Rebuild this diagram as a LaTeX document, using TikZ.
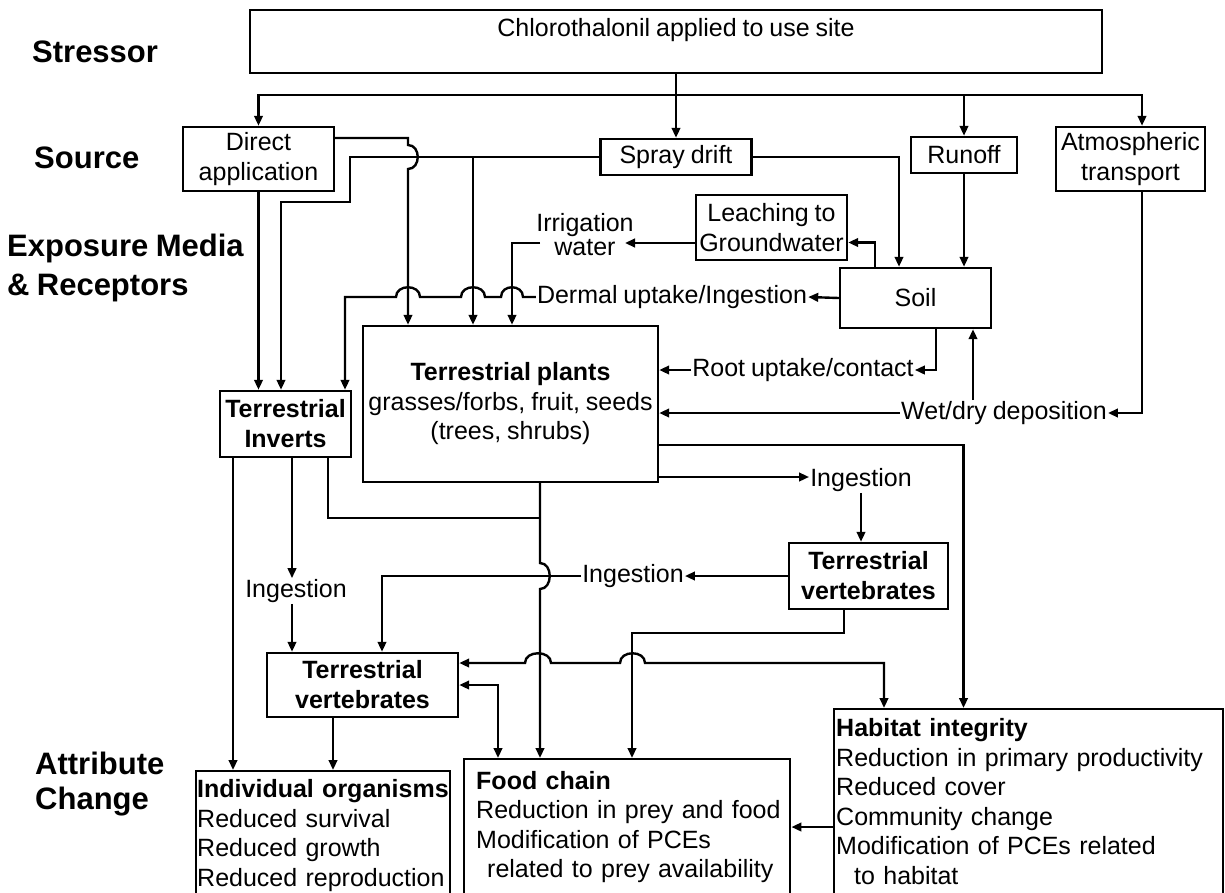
\documentclass[tikz,border=0pt]{standalone}
\usepackage{fontspec}
\setmainfont[WordSpace=0.85]{Liberation Sans}
\usetikzlibrary{arrows.meta,calc}
\begin{document}
\begin{tikzpicture}[x=1pt,y=-1pt,
  >={Triangle[length=10pt,width=8.5pt]},
  every node/.style={font=\fontsize{25}{29.5}\selectfont, inner sep=1pt},
  box/.style={draw, line width=2.4pt, align=center, inner sep=0pt},
  boldbox/.style={box, font=\fontsize{25}{30}\selectfont\bfseries},
  tbox/.style={draw, line width=2.4pt, align=left, anchor=north west},
  hdr/.style={anchor=west, align=left, inner sep=0pt},
  conn/.style={line width=2.4pt},
  arr/.style={conn,->},
  darr/.style={conn,<->},
]
\useasboundingbox (0,0) rectangle (1225,892);
\clip (0,0) rectangle (1225,892);

% headers
\node[hdr, font=\fontsize{31}{36}\selectfont\bfseries] (hStress) at (32,52) {Stressor};
\node[hdr, font=\fontsize{31}{36}\selectfont\bfseries] (hSource) at (34,158) {Source};
\node[hdr, font=\fontsize{31}{39}\selectfont\bfseries] (hExp) at (7,267.5) {Exposure Media\\\& Receptors};
\node[hdr, font=\fontsize{31}{35}\selectfont\bfseries] (hAttr) at (35,784.5) {Attribute\\Change};

% boxes
\node[box, minimum width=852, minimum height=63,
  label={[anchor=north,inner sep=9pt]north:Chlorothalonil applied to use site}] (top) at (676,41.5) {};
\node[box, minimum width=151, minimum height=64] (direct) at (258.5,159) {Direct\\application};
\node[box, minimum width=151, minimum height=36] (spray) at (676,157) {Spray drift};
\node[box, minimum width=106, minimum height=36] (runoff) at (964,155) {Runoff};
\node[box, minimum width=149, minimum height=64] (atmo) at (1130.5,159) {Atmospheric\\transport};
\node[box, minimum width=151, minimum height=65] (leach) at (771.5,227.5) {Leaching to\\Groundwater};
\node[box, minimum width=151, minimum height=60] (soil) at (915.5,298) {Soil};
\node[box, minimum width=295, minimum height=156] (plants) at (510.5,404) {\textbf{Terrestrial plants}\\grasses/forbs, fruit, seeds\\(trees, shrubs)};
\node[boldbox, minimum width=131, minimum height=66] (inverts) at (285.5,424) {Terrestrial\\Inverts};
\node[boldbox, minimum width=159, minimum height=66] (vertR) at (868.5,576) {Terrestrial\\vertebrates};
\node[boldbox, minimum width=191, minimum height=64] (vertL) at (362.5,685) {Terrestrial\\vertebrates};

\node[tbox, inner xsep=1pt, inner ysep=8.5pt, text width=252pt] (indiv) at (195,770)
  {\textbf{Individual organisms}\\Reduced survival\\Reduced growth\\Reduced reproduction\\\mbox{}};
\node[tbox, inner xsep=12pt, inner ysep=12pt, text width=302pt] (food) at (463,758)
  {\textbf{Food chain}\\\mbox{Reduction in prey and food}\\Modification of PCEs\\\hspace*{11pt}\mbox{related to prey availability}\\\mbox{}};
\node[tbox, inner xsep=2pt, inner ysep=9.5pt, text width=385pt] (habitat) at (833,708)
  {\textbf{Habitat integrity}\\Reduction in primary productivity\\Reduced cover\\Community change\\Modification of PCEs related\\\hspace*{18pt}to habitat\\\mbox{}};

% labels
\node[align=center, font=\fontsize{25}{24}\selectfont] (irrig) at (585,235) {Irrigation\\water};
\node (dermal) at (672,297) {Dermal uptake/Ingestion};
\node (root) at (803,370) {Root uptake/contact};
\node (wetdry) at (1004,413) {Wet/dry deposition};
\node (ing1) at (861,480) {Ingestion};
\node (ing2) at (633,576) {Ingestion};
\node (ing3) at (296,591) {Ingestion};

% coordinates
\coordinate (bus) at (676,95);
\coordinate (irrIn) at (625,243);
\coordinate (irrOut) at (540,243);
\coordinate (sprayBr) at (473,157);
\coordinate (sUp) at ([xshift=57.5pt]soil.south);
\coordinate (habIn1) at (884,708);
\coordinate (habIn2) at (963.5,708);
\coordinate (indivIn1) at (233,770);
\coordinate (indivIn2) at (333,770);
\coordinate (vL1) at ([xshift=-70.5pt]vertL.north);
\coordinate (join) at (540,518);
\coordinate (fcA) at (498,758);
\coordinate (fcB) at (540,758);
\coordinate (fcC) at (632,758);
\coordinate (vRturn) at (632,633);
\coordinate (habL) at (833,827);

% stressor to sources
\draw[arr] (top.south) -- (spray.north);
\draw[arr] (bus) -| (direct.north);
\draw[arr] (bus) -| (runoff.north);
\draw[arr] (bus) -| ([xshift=11.5pt]atmo.north);

% sources to media
\draw[arr] (spray.east) -| ([xshift=-16.5pt]soil.north);
\draw[arr] (runoff.south) -- (runoff.south |- soil.north);
\draw[arr] ([xshift=-40.5pt]soil.north) |- ([yshift=-15pt]leach.east);
\draw[arr] ([yshift=-15.5pt]leach.west) -- (irrIn);
\draw[arr] (irrOut) -| ([xshift=1.5pt]plants.north);
\draw[arr] (soil.west) -- (dermal.east);
\draw[arr] (dermal.west) -- (523,297) .. controls (523,284) and (501,284) .. (501,297)
  -- (485,297) .. controls (485,284) and (461,284) .. (461,297)
  -- (420,297) .. controls (420,284) and (396,284) .. (396,297)
  -| ([xshift=59.5pt]inverts.north);
\draw[arr] ([yshift=21pt]direct.east) -- (408,138) -- (408,145) .. controls (421,145) and (421,169) .. (408,169)
  -- ([xshift=-102.5pt]plants.north);
\draw[arr] (spray.west) -- (350,157) -- (350,202) -| ([xshift=-4.5pt]inverts.north);
\draw[arr] (sprayBr) -- ([xshift=-37.5pt]plants.north);
\draw[arr] (direct.south) -- (direct.south |- inverts.north);

\draw[arr] ([xshift=20.5pt]soil.south) |- (root.east);
\draw[arr] (root.west) -- (root.west -| plants.east);
\draw[arr] ([xshift=11.5pt]atmo.south) |- (wetdry.east);
\draw[arr] (wetdry.west) -- (wetdry.west -| plants.east);
\draw[arr] (sUp |- wetdry.north) -- (sUp);

% plants onward
\draw[arr] ([yshift=-41pt]plants.east) -| (habIn2);
\draw[arr] ([yshift=-73pt]plants.east) -- ([yshift=-73pt]plants.east -| ing1.west);
\draw[arr] (ing1.south) -- (ing1.south |- vertR.north);
\draw[arr] (vertR.west) -- (ing2.east);

% inverts onward
\draw[arr] ([xshift=-52.5pt]inverts.south) -- (indivIn1);
\draw[arr] ([xshift=6.5pt]inverts.south) -- ([xshift=6.5pt]inverts.south |- ing3.north);
\draw[arr] (vL1 |- ing3.south) -- (vL1);
\draw[conn] ([xshift=42.5pt]inverts.south) |- (join);

\draw[arr] ([xshift=29.5pt]plants.south) -- (540,563) .. controls (553,563) and (553,589) .. (540,589) -- (fcB);
\draw[arr] (ing2.west) -| ([xshift=19.5pt]vertL.north);
\draw[arr] ([xshift=-24.5pt]vertR.south) |- (vRturn) -- (fcC);

\draw[darr] ([yshift=22pt]vertL.east) -- (525,663) .. controls (525,650) and (551,650) .. (551,663)
  -- (620,663) .. controls (620,650) and (645,650) .. (645,663) -| (habIn1);
\draw[darr] (vertL.east) -| (fcA);
\draw[arr] ([xshift=-29.5pt]vertL.south) -- (indivIn2);
\draw[arr] (habL) -- (habL -| food.east);
\end{tikzpicture}
\end{document}
